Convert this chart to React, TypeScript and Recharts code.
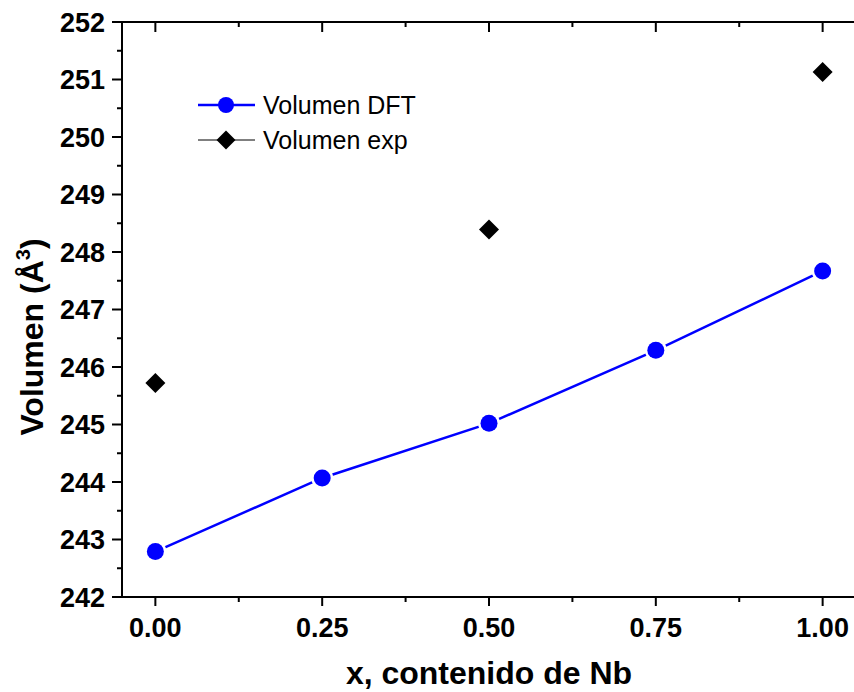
import { ComposedChart, Line, XAxis, YAxis, Legend, Label } from "recharts";

const FONT = "'Liberation Sans', Arial, Helvetica, sans-serif";
const BLUE = "#0000ff";

// x, contenido de Nb
const xValues = [0, 0.25, 0.5, 0.75, 1.0];
// Volumen (Å³)
const dftVolume = [242.79, 244.07, 245.02, 246.29, 247.67];
const expVolume: (number | null)[] = [245.72, null, 248.39, null, 251.13];

const xTicks = [0, 0.125, 0.25, 0.375, 0.5, 0.625, 0.75, 0.875, 1];
const yTicks = [
  242, 242.5, 243, 243.5, 244, 244.5, 245, 245.5, 246, 246.5, 247, 247.5, 248,
  248.5, 249, 249.5, 250, 250.5, 251, 251.5, 252,
];

const rows = xValues.map((x, i) => ({ x, dft: dftVolume[i], exp: expVolume[i] }));

const W = 860;
const H = 692;
// plot area: x 122..856, y 22..597
const MARGIN = { top: 21, right: 3, bottom: 35, left: 42 };
const PLOT_LEFT = 122;
const PLOT_RIGHT = 856;

const isMajorX = (v: number) => Number.isInteger(Math.round(v * 1000) / 250);
const isMajorY = (v: number) => Number.isInteger(v);

const BottomTick = ({ x, y, payload }: any) => {
  const v = payload.value;
  if (!isMajorX(v)) return <line x1={x} x2={x} y1={y} y2={y + 5} stroke="#000" strokeWidth={2} />;
  return (
    <g>
      <line x1={x} x2={x} y1={y} y2={y + 9} stroke="#000" strokeWidth={2} />
      <text x={x} y={y + 40} textAnchor="middle" fontFamily={FONT} fontWeight="bold" fontSize={27} fill="#000">
        {v.toFixed(2)}
      </text>
    </g>
  );
};

const TopTick = ({ x, y, payload }: any) => {
  const len = isMajorX(payload.value) ? 10 : 5;
  return <line x1={x} x2={x} y1={y} y2={y + len} stroke="#000" strokeWidth={2} />;
};

const LeftTick = ({ x, y, payload }: any) => {
  const v = payload.value;
  if (!isMajorY(v)) return <line x1={x - 5} x2={x} y1={y} y2={y} stroke="#000" strokeWidth={2} />;
  return (
    <g>
      <line x1={x - 10} x2={x} y1={y} y2={y} stroke="#000" strokeWidth={2} />
      <text x={x - 17} y={y + 9.5} textAnchor="end" fontFamily={FONT} fontWeight="bold" fontSize={27} fill="#000">
        {v}
      </text>
    </g>
  );
};

const RightTick = ({ x, y, payload }: any) => {
  const len = isMajorY(payload.value) ? 10 : 5;
  return <line x1={x - len} x2={x} y1={y} y2={y} stroke="#000" strokeWidth={2} />;
};

const CircleDot = (props: any) => {
  const { cx, cy, value, index } = props;
  if (value == null || cx == null || cy == null) return <g key={`c${index}`} />;
  return (
    <g key={`c${index}`}>
      <circle cx={cx} cy={cy} r={11} fill="#fff" />
      <circle cx={cx} cy={cy} r={8.5} fill={BLUE} />
    </g>
  );
};

const diamond = (cx: number, cy: number, h: number) =>
  `${cx},${cy - h} ${cx + h},${cy} ${cx},${cy + h} ${cx - h},${cy}`;

const DiamondDot = (props: any) => {
  const { cx, cy, value, index } = props;
  if (value == null || cx == null || cy == null) return <g key={`d${index}`} />;
  return <polygon key={`d${index}`} points={diamond(cx, cy, 10)} fill="#000" />;
};

const LegendBox = () => (
  <svg width={260} height={72} style={{ display: "block" }}>
    <line x1={8} x2={65} y1={20} y2={20} stroke={BLUE} strokeWidth={2.5} />
    <circle cx={36} cy={20} r={8} fill={BLUE} />
    <text x={73} y={29} fontFamily={FONT} fontSize={25} fill="#000">
      Volumen DFT
    </text>
    <line x1={8} x2={65} y1={55} y2={55} stroke="#000" strokeWidth={1} />
    <polygon points={diamond(36, 55, 9.5)} fill="#000" />
    <text x={73} y={64} fontFamily={FONT} fontSize={25} fill="#000">
      Volumen exp
    </text>
  </svg>
);

const XTitle = () => (
  <text
    x={(PLOT_LEFT + PLOT_RIGHT) / 2}
    y={684}
    textAnchor="middle"
    fontFamily={FONT}
    fontWeight="bold"
    fontSize={32}
    fill="#000"
  >
    x, contenido de Nb
  </text>
);

const YTitle = () => (
  <text
    transform="translate(43, 337) rotate(-90)"
    textAnchor="middle"
    fontFamily={FONT}
    fontWeight="bold"
    fontSize={32}
    fill="#000"
  >
    Volumen (Å
    <tspan dy={-13} fontSize={20}>
      3
    </tspan>
    <tspan dy={13}>)</tspan>
  </text>
);

export default function App() {
  return (
    <div style={{ position: "absolute", left: 0, top: 0, width: 854, height: 692, overflow: "hidden", background: "#fff" }}>
      <ComposedChart width={W} height={H} data={rows} margin={MARGIN}>
        <XAxis
          xAxisId="b"
          dataKey="x"
          type="number"
          domain={[-0.05, 1.05]}
          ticks={xTicks}
          interval={0}
          height={60}
          tickSize={0}
          tickMargin={0}
          tickLine={false}
          tick={BottomTick}
          axisLine={{ stroke: "#000", strokeWidth: 2 }}
        >
          <Label content={XTitle} />
        </XAxis>
        <XAxis
          xAxisId="t"
          orientation="top"
          dataKey="x"
          type="number"
          domain={[-0.05, 1.05]}
          ticks={xTicks}
          interval={0}
          height={1}
          tickSize={0}
          tickMargin={0}
          tickLine={false}
          tick={TopTick}
          axisLine={{ stroke: "#000", strokeWidth: 2 }}
        />
        <YAxis
          yAxisId="l"
          type="number"
          domain={[242, 252]}
          ticks={yTicks}
          interval={0}
          width={80}
          tickSize={0}
          tickMargin={0}
          tickLine={false}
          tick={LeftTick}
          axisLine={{ stroke: "#000", strokeWidth: 2 }}
        >
          <Label content={YTitle} />
        </YAxis>
        <YAxis
          yAxisId="r"
          orientation="right"
          type="number"
          domain={[242, 252]}
          ticks={yTicks}
          interval={0}
          width={1}
          tickSize={0}
          tickMargin={0}
          tickLine={false}
          tick={RightTick}
          axisLine={{ stroke: "#000", strokeWidth: 2 }}
        />
        <Legend
          layout="vertical"
          align="center"
          verticalAlign="middle"
          wrapperStyle={{ left: 190, top: 85, width: 260, height: 72 }}
          content={() => <LegendBox />}
        />
        <Line
          xAxisId="b"
          yAxisId="l"
          dataKey="dft"
          name="Volumen DFT"
          stroke={BLUE}
          strokeWidth={2.5}
          dot={CircleDot}
          activeDot={false}
          isAnimationActive={false}
        />
        <Line
          xAxisId="b"
          yAxisId="l"
          dataKey="exp"
          name="Volumen exp"
          stroke="none"
          dot={DiamondDot}
          activeDot={false}
          isAnimationActive={false}
        />
      </ComposedChart>
    </div>
  );
}
